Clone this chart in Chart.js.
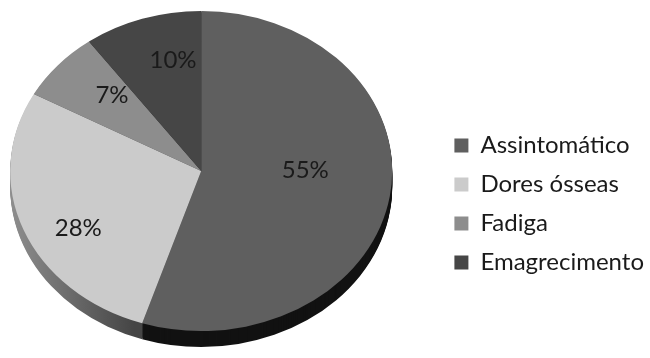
<!DOCTYPE html>
<html>
<head>
<meta charset="utf-8">
<script src="https://cdn.jsdelivr.net/npm/chart.js@4/dist/chart.umd.min.js"></script>
<style>
  html, body { margin: 0; padding: 0; background: #fff; overflow: hidden; }
  #wrap { width: 691px; height: 358px; position: relative; margin-left: -37px; }
</style>
</head>
<body>
<div id="wrap"><canvas id="pie"></canvas></div>
<script>
const categories = ['Assintomático', 'Dores ósseas', 'Fadiga', 'Emagrecimento'];
const percents = [55, 28, 7, 10];
const topColors = ['#5f5f5f', '#cbcbcb', '#8d8d8d', '#464646'];
const sideColors = ['#121212', '#6a6a6a', '#555555', '#2a2a2a'];

const squash = 0.838;   // vertical flattening of the tilted pie
const depth = 16;       // thickness of the pie edge
const labelRatio = [0.545, 0.736, 0.665, 0.709];
const labelTurn = [-9.7, -7.4, 4, 6];   // degrees, nudges like Excel's 3D labels

function applySquash(ctx, x, y) {
    ctx.translate(x, y);
    ctx.scale(1, squash);
    ctx.translate(-x, -y);
}

const tiltPlugin = {
    id: 'tilt',
    beforeDatasetsDraw(chart) {
        const ctx = chart.ctx;
        const arcs = chart.getDatasetMeta(0).data;
        if (!arcs.length) return;
        const cx = arcs[0].x, cy = arcs[0].y, r = arcs[0].outerRadius;
        const grad = ctx.createLinearGradient(cx - r, 0, cx - 0.35 * r, 0);
        grad.addColorStop(0, '#8e8e8e');
        grad.addColorStop(1, '#454545');
        // edge of the pie, stacked downward
        for (let d = depth; d >= 1; d--) {
            ctx.save();
            ctx.translate(0, d);
            applySquash(ctx, cx, cy);
            arcs.forEach((arc, i) => {
                ctx.beginPath();
                ctx.moveTo(cx, cy);
                ctx.arc(cx, cy, arc.outerRadius, arc.startAngle, arc.endAngle);
                ctx.closePath();
                ctx.fillStyle = i === 1 ? grad : sideColors[i];
                ctx.fill();
            });
            ctx.restore();
        }
        ctx.save();
        applySquash(ctx, cx, cy);
    },
    afterDatasetsDraw(chart) {
        const ctx = chart.ctx;
        ctx.restore();
        const arcs = chart.getDatasetMeta(0).data;
        ctx.save();
        ctx.font = '24px Lato';
        ctx.fillStyle = '#1a1a1a';
        ctx.textAlign = 'center';
        ctx.textBaseline = 'middle';
        arcs.forEach((arc, i) => {
            const mid = (arc.startAngle + arc.endAngle) / 2 + labelTurn[i] * Math.PI / 180;
            const r = arc.outerRadius * labelRatio[i];
            const x = arc.x + Math.cos(mid) * r;
            const y = arc.y + Math.sin(mid) * r * squash;
            ctx.fillText(percents[i] + '%', x, y);
        });
        ctx.restore();
    }
};

new Chart(document.getElementById('pie'), {
    type: 'pie',
    data: {
        labels: categories,
        datasets: [{
            data: percents,
            backgroundColor: topColors,
            borderWidth: 0
        }]
    },
    options: {
        responsive: true,
        maintainAspectRatio: false,
        animation: false,
        radius: 191,
        layout: {
            padding: { left: 0, right: 0, top: 0, bottom: 16 }
        },
        plugins: {
            tooltip: { enabled: false },
            legend: {
                position: 'right',
                title: {
                    display: true,
                    text: ' ',
                    font: { size: 10 },
                    padding: 27
                },
                labels: {
                    color: '#1a1a1a',
                    font: { family: 'Lato', size: 24 },
                    boxWidth: 14,
                    boxHeight: 14,
                    padding: 15
                }
            }
        }
    },
    plugins: [tiltPlugin]
});
</script>
</body>
</html>
